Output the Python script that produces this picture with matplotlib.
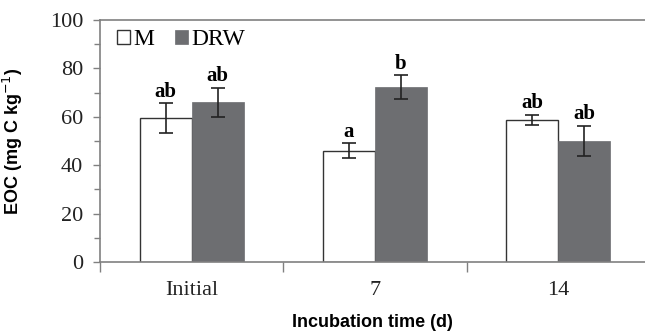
import matplotlib
matplotlib.use("Agg")
import matplotlib.pyplot as plt
import numpy as np
from matplotlib.ticker import MultipleLocator, FixedLocator

categories = ["Initial", "7", "14"]
m_values = [59.5, 45.9, 58.7]
m_errors = [6.2, 3.1, 2.1]
drw_values = [66.1, 72.3, 50.0]
drw_errors = [6.0, 5.0, 6.4]
m_letters = ["ab", "a", "ab"]
drw_letters = ["ab", "b", "ab"]

serif = "Liberation Serif"
sans = "Liberation Sans"
gray = "#6d6e71"
spine_gray = "#808080"

fig = plt.figure(figsize=(6.45, 3.35), dpi=100)
ax = fig.add_axes([100 / 645, 1 - 262 / 335, 545 / 645, 242 / 335])

x = np.arange(len(categories))
width = 0.283

ax.bar(x - width / 2, m_values, width, color="white", edgecolor="#333333",
       linewidth=1.0, label="M", zorder=2)
ax.bar(x + width / 2, drw_values, width, color=gray, edgecolor=gray,
       linewidth=0.5, label="DRW", zorder=2)
ax.errorbar(x - width / 2, m_values, yerr=m_errors, fmt="none", ecolor="#222222",
            elinewidth=1.2, capsize=5, capthick=1.2, zorder=3)
ax.errorbar(x + width / 2, drw_values, yerr=drw_errors, fmt="none", ecolor="#222222",
            elinewidth=1.2, capsize=5, capthick=1.2, zorder=3)

for xi, v, e, t in zip(x - width / 2, m_values, m_errors, m_letters):
    ax.annotate(t, (xi, v + e), xytext=(0, 1), textcoords="offset points",
                ha="center", va="bottom", fontsize=15, fontweight="bold", family=serif)
for xi, v, e, t in zip(x + width / 2, drw_values, drw_errors, drw_letters):
    ax.annotate(t, (xi, v + e), xytext=(0, 1), textcoords="offset points",
                ha="center", va="bottom", fontsize=15, fontweight="bold", family=serif)

ax.set_xlim(-0.5, 2.5 - 5 / 183.5)
ax.set_ylim(0, 100)

ax.yaxis.set_major_locator(MultipleLocator(20))
ax.yaxis.set_minor_locator(MultipleLocator(10))
ax.xaxis.set_major_locator(FixedLocator([-0.5, 0.5, 1.5]))
ax.xaxis.set_minor_locator(FixedLocator(x))
ax.xaxis.set_major_formatter(plt.NullFormatter())
ax.xaxis.set_minor_formatter(plt.FixedFormatter(categories))

ax.tick_params(axis="y", which="major", direction="out", length=5, width=1,
               color=spine_gray, labelsize=16, pad=7)
ax.tick_params(axis="y", which="minor", direction="out", length=4, width=1,
               color=spine_gray)
ax.tick_params(axis="x", which="major", direction="out", length=7, width=1,
               color=spine_gray)
ax.tick_params(axis="x", which="minor", length=0, labelsize=16, pad=14)
for lab in ax.get_yticklabels() + ax.get_xticklabels(minor=True):
    lab.set_family(serif)
    lab.set_color("#222222")

for side in ["left", "bottom", "top"]:
    ax.spines[side].set_color(spine_gray)
    ax.spines[side].set_linewidth(1.2)
ax.spines["right"].set_visible(False)

ax.set_ylabel("EOC (mg C kg$^{-1}$)", fontsize=13, fontweight="bold", family=sans)
ax.set_xlabel("Incubation time (d)", fontsize=13, fontweight="bold", family=sans)
ax.yaxis.set_label_coords(-0.137, 0.5)
ax.xaxis.set_label_coords(0.5, -0.215)

ax.legend(loc="upper left", bbox_to_anchor=(0.0, 1.03), ncol=2, frameon=False,
          prop={"family": serif, "size": 17}, handlelength=0.55, handleheight=0.55,
          handletextpad=0.15, columnspacing=0.9, borderaxespad=0.3)

fig.savefig("out.png", dpi=100)
